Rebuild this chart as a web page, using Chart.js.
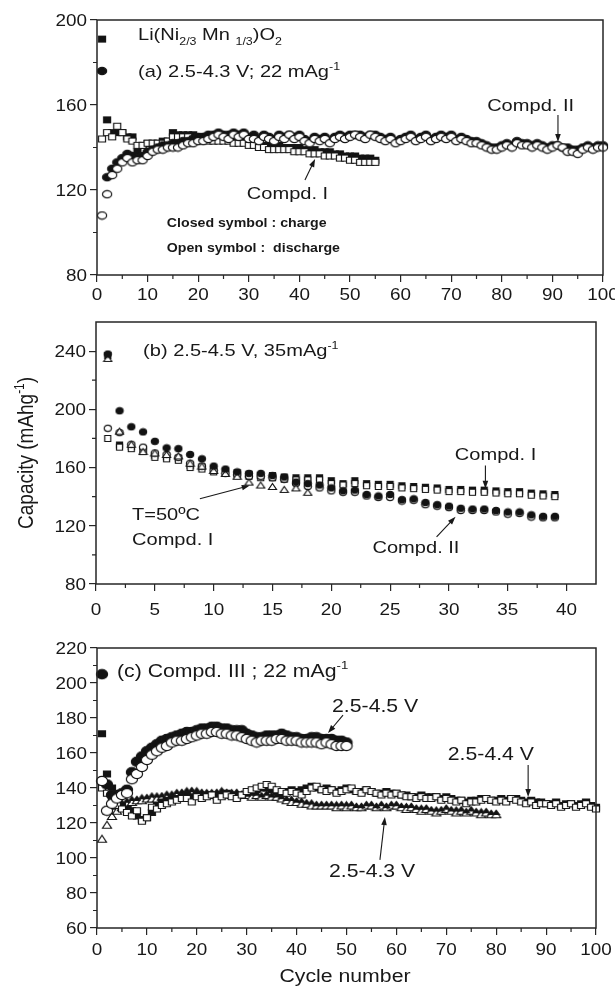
<!DOCTYPE html>
<html><head><meta charset="utf-8">
<script src="https://cdn.jsdelivr.net/npm/chart.js@4/dist/chart.umd.min.js"></script>
<style>
html,body{margin:0;padding:0;background:#fff;}
#wrap{position:relative;width:615px;height:987px;overflow:hidden;background:#fff;}
#wrap canvas{position:absolute;left:0;}
</style></head><body>
<div id="wrap">
<canvas id="ca" width="615" height="300" style="top:0px"></canvas>
<canvas id="cb" width="615" height="330" style="top:300px"></canvas>
<canvas id="cc" width="615" height="357" style="top:630px"></canvas>
</div>
<script>
// ---------- Panel (a): 2.5-4.3 V; 22 mA/g ----------
const aXTicks = [0,10,20,30,40,50,60,70,80,90,100];
const aXMinor = [5,15,25,35,45,55,65,75,85,95];
const aYTicks = [80,120,160,200];
const aYMinor = [100,140,180];
const aCompd1Charge = [191,153,147,147,147,145,145,138,141,142, 142,142,143,143,147,146,146,146,146,145, 145,144,144,144,144,144,143,143,143,143, 142,142,141,141,141,141,140,140,140,140, 139,139,139,138,138,138,137,137,136,136, 136,135,135,135,134];
const aCompd1Discharge = [144,147,145,150,147,144,143,141,141,142, 142,142,142,143,145,145,145,145,144,144, 144,143,143,143,143,143,142,142,142,141, 141,140,140,139,139,139,139,139,138,138, 138,137,137,137,136,136,136,135,135,134, 134,133,133,133,133];
const aCompd2Charge = [176,126,130,133,135,137,136,135,136,138, 139,140,141,141,142,142,143,143,144,145, 145,146,146,147,146,146,147,146,147,145, 146,144,146,145,144,146,145,146,145,146, 144,143,145,144,145,143,145,146,145,146, 146,146,145,146,146,145,144,145,143,144, 145,146,144,145,146,144,145,146,145,146, 144,145,144,143,143,142,141,140,140,141, 142,141,143,142,142,141,142,141,140,141, 141,140,140,139,139,140,141,140,141,141];
const aCompd2Discharge = [108,118,127,130,133,135,133,134,134,136, 138,139,139,140,140,140,141,142,142,143, 143,144,145,146,145,144,146,145,146,144, 144,143,145,144,143,145,144,146,144,145, 143,142,144,143,144,142,144,145,144,145, 146,145,144,146,145,144,143,144,142,143, 144,145,143,144,145,143,144,145,144,145, 143,144,143,142,142,141,140,139,139,140, 141,140,142,141,141,140,141,140,139,140, 141,140,138,138,137,139,140,139,140,140];

// ---------- Panel (b): 2.5-4.5 V, 35 mA/g ----------
const bXTicks = [0,5,10,15,20,25,30,35,40];
const bXMinor = [2.5,7.5,12.5,17.5,22.5,27.5,32.5,37.5];
const bYTicks = [80,120,160,200,240];
const bYMinor = [100,140,180,220];
const bCompd1Charge = [237,175.5,174.5,172.5,168.5,167.5,166.5,161.5,160.5,158.5, 157.5,156.5,155.5,154.5,154.5,153.5,153,153,153,151, 149,151,149,148.5,148.5,147.5,147,146.5,146,145, 145,144.5,144.5,144,143.5,143.5,142.5,142,141.5];
const bCompd1Discharge = [180,174,173,171,167,166,165,160,159,157, 156,155,154,153,153,152,151.5,151.5,151.5,149, 148,149,147.5,147,147,146,145.5,145,144.5,143.5, 143.5,143,143,142.5,142,142,141,140.5,140];
const bCompd2Charge = [238,199,188,184.5,178,173.5,173,169,166,161, 159,157,156,156,154.5,153.5,150,149,148,146, 144,144.5,141.5,140.5,141.5,138,138.5,136,134.5,133.5, 132,131.5,131.5,130.5,129.5,129.5,127.5,126.5,126.5];
const bCompd2Discharge = [187,184,176,174,170,169,167,163,161,158, 156,155,154,154,153,152,149,147,146,144, 143,143,140.5,139.5,139.5,137,137.5,134.5,133.5,132.5, 130.5,130.5,130.5,129.5,128,128.5,126,125.5,125.5];
const bCompd1At50C = [235,185,176,171,170,169,168,163,161,158, 156,154,150,148,147,145,146,143];

// ---------- Panel (c): Compd. III, 22 mA/g ----------
const cXTicks = [0,10,20,30,40,50,60,70,80,90,100];
const cXMinor = [5,15,25,35,45,55,65,75,85,95];
const cYTicks = [60,80,100,120,140,160,180,200,220];
const cYMinor = [70,90,110,130,150,170,190,210];
const c45Charge = [205,142,136,136,137,139,149,155,158,161, 163,165,167,168,169,170,171,172,172,173, 174,174,175,175,174,174,173,173,173,171, 170,169,169,170,170,170,171,170,169,169, 168,168,169,169,168,168,168,167,167,166];
const c45Discharge = [144,127,131,134,136,137,145,148,152,156, 159,161,163,164,166,167,167,168,169,170, 171,171,172,172,171,171,170,170,169,168, 167,166,167,167,167,168,168,167,167,167, 166,166,166,166,165,166,165,164,164,164];
const c44Charge = [171,148,140,131,130,128,127,124,122,123, 126,130,132,133,134,134,135,136,135,136, 135,136,136,135,136,137,136,135,136,137, 138,139,140,140,139,138,137,138,139,138, 139,140,141,140,139,140,139,138,139,140, 139,138,138,139,138,137,137,138,137,137, 136,136,135,135,136,135,135,135,134,135, 134,133,133,132,133,133,134,134,133,133, 134,133,134,134,133,132,133,132,132,131, 131,132,130,131,131,130,131,132,130,129];
const c44Discharge = [140,137,133,130,128,126,124,127,121,123, 129,128,130,131,132,133,134,134,132,135, 134,135,136,133,135,136,135,134,136,138, 139,140,141,142,141,139,138,137,138,137, 136,138,140,141,139,138,139,137,138,139, 140,138,137,139,138,137,136,137,136,137, 136,135,135,134,135,134,134,135,133,134, 133,132,133,131,132,132,133,134,133,132, 133,132,134,133,132,131,132,130,131,131, 130,131,129,130,131,129,130,131,129,128];
const c43Charge = [null,126,129,130,132,133,134,134,135,135, 136,136,136,137,137,138,138,139,139,139, 138,138,138,138,139,138,138,138,137,137, 137,137,136,137,136,136,135,134,134,133, 133,132,132,131,131,131,131,131,131,131, 131,130,130,131,131,130,131,130,131,131, 130,130,130,129,129,129,128,128,128,129, 128,128,128,127,128,127,127,127,126,126];
const c43Discharge = [111,119,124,127,129,131,132,133,133,134, 134,134,135,135,135,136,137,137,138,137, 137,136,136,137,137,137,136,137,136,136, 135,136,135,136,135,135,134,133,132,132, 131,131,130,130,130,130,130,129,130,129, 130,129,129,130,130,129,130,129,130,130, 129,128,129,128,127,128,127,126,127,128, 127,126,127,126,127,126,125,126,125,125];

// ---------- helpers ----------
const SX = 1.18;
const FONT = '"Liberation Sans", Arial, Helvetica, sans-serif';
const INK = '#181818';
const AXIS = '#262626';

function marker(shape, w, h, filled) {
  const c = document.createElement('canvas');
  c.width = w + 2; c.height = h + 2;
  const g = c.getContext('2d');
  g.lineWidth = 1.2;
  g.strokeStyle = '#161616';
  g.fillStyle = filled ? '#121212' : '#ffffff';
  const cx = c.width / 2, cy = c.height / 2;
  g.beginPath();
  if (shape === 'circle') g.ellipse(cx, cy, w / 2 - 0.4, h / 2 - 0.4, 0, 0, Math.PI * 2);
  else if (shape === 'rect') g.rect(1.5, 1.5, w - 1, h - 1);
  else { g.moveTo(cx, 1.5); g.lineTo(w + 0.5, h + 0.5); g.lineTo(1.5, h + 0.5); g.closePath(); }
  g.fill(); g.stroke();
  return c;
}

function txt(ctx, x, y, segs, size, o) {
  o = o || {};
  ctx.save();
  ctx.fillStyle = INK;
  ctx.textBaseline = 'alphabetic';
  ctx.translate(x, y);
  if (o.rotate) { ctx.rotate(o.rotate); ctx.scale(1, SX); } else ctx.scale(SX, 1);
  let total = 0;
  const parts = segs.map(s => {
    const t = Array.isArray(s) ? s[0] : s, k = Array.isArray(s) ? s[1] : 'n';
    const fs = k === 'n' ? size : size * 0.62;
    const font = (o.bold ? 'bold ' : '') + fs + 'px ' + FONT;
    ctx.font = font;
    const w = ctx.measureText(t).width;
    total += w;
    return {t, k, font, w};
  });
  let cx = o.align === 'center' ? -total / 2 : (o.align === 'right' ? -total : 0);
  const base = o.middle ? size * 0.36 : 0;
  for (const p of parts) {
    ctx.font = p.font;
    const dy = p.k === 'sub' ? size * 0.3 : (p.k === 'sup' ? -size * 0.42 : 0);
    ctx.fillText(p.t, cx, dy + base);
    cx += p.w;
  }
  ctx.restore();
}

function arrow(ctx, x1, y1, x2, y2) {
  const ang = Math.atan2(y2 - y1, x2 - x1), L = 8, W = 2.8;
  const c = Math.cos(ang), s = Math.sin(ang);
  ctx.save();
  ctx.strokeStyle = INK; ctx.fillStyle = INK; ctx.lineWidth = 1.1;
  ctx.beginPath(); ctx.moveTo(x1, y1); ctx.lineTo(x2 - L * 0.7 * c, y2 - L * 0.7 * s); ctx.stroke();
  ctx.beginPath(); ctx.moveTo(x2, y2);
  ctx.lineTo(x2 - L * c + W * s, y2 - L * s - W * c);
  ctx.lineTo(x2 - L * c - W * s, y2 - L * s + W * c);
  ctx.closePath(); ctx.fill();
  ctx.restore();
}

const SPECS = {
  ca: {
    x: [0, 100], y: [80, 200], xt: aXTicks, xm: aXMinor, yt: aYTicks, ym: aYMinor,
    pad: {left: 37, right: 12, top: 20, bottom: 0}, xlab: 25,
    notes: [
      {x: 8.1, y: 190.6, size: 17, segs: ['Li(Ni', ['2/3', 'sub'], ' Mn ', ['1/3', 'sub'], ')O', ['2', 'sub']]},
      {x: 8.1, y: 173.2, size: 17, segs: ['(a) 2.5-4.3 V; 22 mAg', ['-1', 'sup']]},
      {x: 29.6, y: 115.8, size: 17, segs: ['Compd. I']},
      {x: 77.1, y: 157.2, size: 17, segs: ['Compd. II']},
      {x: 13.8, y: 102.6, size: 12, bold: true, segs: ['Closed symbol : charge']},
      {x: 13.8, y: 90.8, size: 12, bold: true, segs: ['Open symbol :  discharge']}
    ],
    arrows: [[41.1, 124.7, 43.1, 134.6], [91.1, 155.3, 91.1, 142.6]],
    free: []
  },
  cb: {
    x: [0, 42.5], y: [80, 260], xt: bXTicks, xm: bXMinor, yt: bYTicks, ym: bYMinor,
    pad: {left: 36, right: 19, top: 22, bottom: 21}, xlab: 31,
    notes: [
      {x: 4.0, y: 236.3, size: 17, segs: ['(b) 2.5-4.5 V, 35mAg', ['-1', 'sup']]},
      {x: 3.06, y: 124.1, size: 17, segs: ['T=50ºC']},
      {x: 3.06, y: 106.9, size: 17, segs: ['Compd. I']},
      {x: 30.5, y: 165.5, size: 17, segs: ['Compd. I']},
      {x: 23.5, y: 101.2, size: 17, segs: ['Compd. II']}
    ],
    arrows: [[8.83, 138.6, 13.07, 147.6], [33.1, 161.4, 33.1, 145.5], [28.95, 112.4, 30.56, 126.2]],
    free: [{px: 25, py: 153, size: 19, rotate: -Math.PI / 2, align: 'center', middle: true, segs: ['Capacity (mAhg', ['-1', 'sup'], ')']}]
  },
  cc: {
    x: [0, 100], y: [60, 220], xt: cXTicks, xm: cXMinor, yt: cYTicks, ym: cYMinor,
    pad: {left: 37, right: 19, top: 18, bottom: 34}, xlab: 27,
    notes: [
      {x: 4.0, y: 203.6, size: 18, segs: ['(c) Compd. III ; 22 mAg', ['-1', 'sup']]},
      {x: 47.1, y: 183.6, size: 18, segs: ['2.5-4.5 V']},
      {x: 70.3, y: 156, size: 18, segs: ['2.5-4.4 V']},
      {x: 46.5, y: 89.3, size: 18, segs: ['2.5-4.3 V']}
    ],
    arrows: [[49.3, 181.7, 46.3, 171.4], [86.4, 153.1, 86.4, 134.9], [56.7, 98.9, 57.7, 123.4]],
    free: [{px: 345, py: 352, size: 18, align: 'center', segs: ['Cycle number']}]
  }
};

const deco = {
  id: 'deco',
  afterDraw(chart) {
    const spec = SPECS[chart.canvas.id];
    const ctx = chart.ctx, a = chart.chartArea, xs = chart.scales.x, ys = chart.scales.y;
    ctx.save();
    ctx.strokeStyle = AXIS; ctx.lineWidth = 1.5;
    ctx.strokeRect(a.left, a.top, a.right - a.left, a.bottom - a.top);
    ctx.lineWidth = 1.2;
    ctx.beginPath();
    spec.xm.forEach(v => { const p = xs.getPixelForValue(v); ctx.moveTo(p, a.bottom); ctx.lineTo(p, a.bottom + 4); });
    spec.ym.forEach(v => { const p = ys.getPixelForValue(v); ctx.moveTo(a.left, p); ctx.lineTo(a.left - 4, p); });
    ctx.stroke();
    ctx.restore();
    xs.ticks.forEach(t => txt(ctx, xs.getPixelForValue(t.value), a.bottom + spec.xlab, [String(t.value)], 16, {align: 'center'}));
    ys.ticks.forEach(t => txt(ctx, a.left - 10, ys.getPixelForValue(t.value), [String(t.value)], 16, {align: 'right', middle: true}));
    spec.notes.forEach(n => txt(ctx, xs.getPixelForValue(n.x), ys.getPixelForValue(n.y), n.segs, n.size, n));
    spec.arrows.forEach(r => arrow(ctx, xs.getPixelForValue(r[0]), ys.getPixelForValue(r[1]), xs.getPixelForValue(r[2]), ys.getPixelForValue(r[3])));
    spec.free.forEach(n => txt(ctx, n.px, n.py, n.segs, n.size, n));
  }
};

const cyc = arr => arr.map((v, i) => ({x: i + 1, y: v}));
function ds(values, style, order) {
  return {data: cyc(values), pointStyle: style, pointRadius: 4, order: order, showLine: false, clip: false};
}

function makeChart(id, datasets) {
  const spec = SPECS[id];
  const grid = {display: true, drawOnChartArea: false, drawTicks: true, tickLength: 7, color: AXIS, lineWidth: 1.2};
  return new Chart(document.getElementById(id), {
    type: 'scatter',
    data: {datasets: datasets},
    options: {
      responsive: false, animation: false, devicePixelRatio: 1, events: [],
      layout: {padding: spec.pad},
      plugins: {legend: {display: false}, tooltip: {enabled: false}},
      scales: {
        x: {type: 'linear', min: spec.x[0], max: spec.x[1], ticks: {display: false}, border: {display: false}, grid: grid,
          afterBuildTicks: s => { s.ticks = spec.xt.map(v => ({value: v})); },
          afterFit: s => { s.height = 25; s.paddingLeft = 0; s.paddingRight = 0; }},
        y: {type: 'linear', min: spec.y[0], max: spec.y[1], ticks: {display: false}, border: {display: false}, grid: grid,
          afterBuildTicks: s => { s.ticks = spec.yt.map(v => ({value: v})); },
          afterFit: s => { s.width = 60; s.paddingTop = 0; s.paddingBottom = 0; }}
      }
    },
    plugins: [deco]
  });
}

// markers
const aCirO = marker('circle', 10, 8, false), aCirC = marker('circle', 10, 8, true);
const aSqO = marker('rect', 8, 7, false), aSqC = marker('rect', 8, 7, true);
const bCirO = marker('circle', 8, 7, false), bCirC = marker('circle', 8, 7, true);
const bSqO = marker('rect', 7, 7, false), bSqC = marker('rect', 7, 7, true);
const bTri = marker('tri', 9, 7, false);
const cCirO = marker('circle', 12, 10, false), cCirC = marker('circle', 12, 10, true);
const cSqO = marker('rect', 8, 7, false), cSqC = marker('rect', 8, 7, true);
const cTriO = marker('tri', 10, 8, false), cTriC = marker('tri', 7, 5, true);

makeChart('ca', [
  ds(aCompd2Discharge, aCirO, 0),
  ds(aCompd2Charge, aCirC, 1),
  ds(aCompd1Discharge, aSqO, 2),
  ds(aCompd1Charge, aSqC, 3)
]);
makeChart('cb', [
  ds(bCompd2Charge, bCirC, 0),
  ds(bCompd1At50C, bTri, 1),
  ds(bCompd2Discharge, bCirO, 2),
  ds(bCompd1Discharge, bSqO, 3),
  ds(bCompd1Charge, bSqC, 4)
]);
makeChart('cc', [
  ds(c45Discharge, cCirO, 0),
  ds(c45Charge, cCirC, 1),
  ds(c44Discharge, cSqO, 2),
  ds(c44Charge, cSqC, 3),
  ds(c43Charge, cTriC, 4),
  ds(c43Discharge, cTriO, 5)
]);
</script>
</body></html>
